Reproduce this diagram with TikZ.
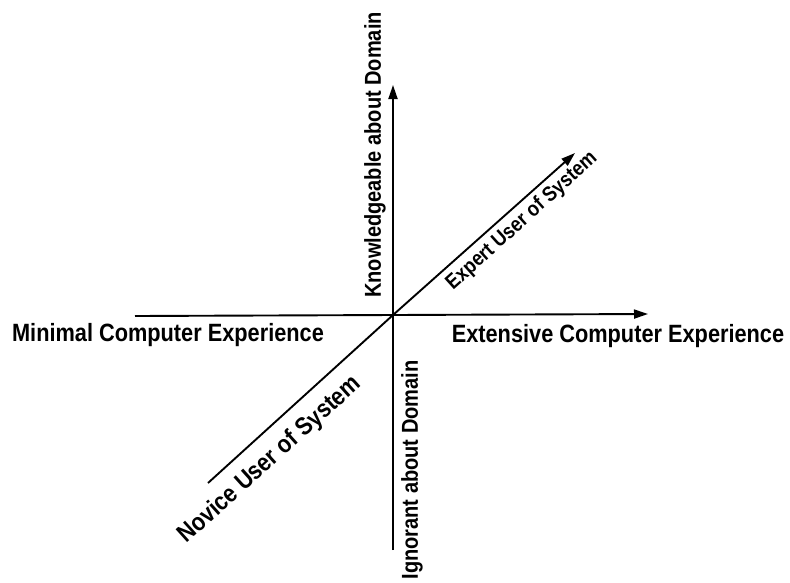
\documentclass[tikz,border=0pt]{standalone}
\usepackage{fontspec}
\setmainfont{Liberation Sans}
\newfontfamily\labfont[FakeStretch=0.87]{Liberation Sans Bold}
\usetikzlibrary{arrows.meta}
\begin{document}
\begin{tikzpicture}[x=1pt,y=-1pt,
  axis/.style={line width=1.9pt,-{Triangle[length=14pt,width=9pt]}},
  plainaxis/.style={line width=1.9pt},
  lab/.style={inner sep=0pt,font=\labfont\fontsize{25}{28}\selectfont},
  vlab/.style={inner sep=0pt,rotate=90,font=\labfont\fontsize{23}{26}\selectfont}]
\useasboundingbox (0,0) rectangle (790,582);
\coordinate (o) at (393,315);
\coordinate (top) at (393,85);
\coordinate (bot) at (393,550);
\coordinate (left) at (135,316);
\coordinate (right) at (648,314);
\coordinate (dlo) at (208,483);
\coordinate (dhi) at (575,153);
\draw[plainaxis] (bot) -- (o);
\draw[axis] (o) -- (top);
\draw[plainaxis] (left) -- (o);
\draw[axis] (o) -- (right);
\draw[plainaxis] (dlo) -- (o);
\draw[axis] (o) -- (dhi);
\node[vlab] (know) at (375,155) {Knowledgeable about Domain};
\node[vlab] (ign) at (412,470) {Ignorant about Domain};
\node[lab] (min) at (168,335) {Minimal Computer Experience};
\node[lab] (ext) at (618,336) {Extensive Computer Experience};
\node[lab,rotate=42] (nov) at (270,460) {Novice User of System};
\node[lab,rotate=42,font=\labfont\fontsize{21}{24}\selectfont] (exp) at (522,221) {Expert User of System};
\end{tikzpicture}
\end{document}
